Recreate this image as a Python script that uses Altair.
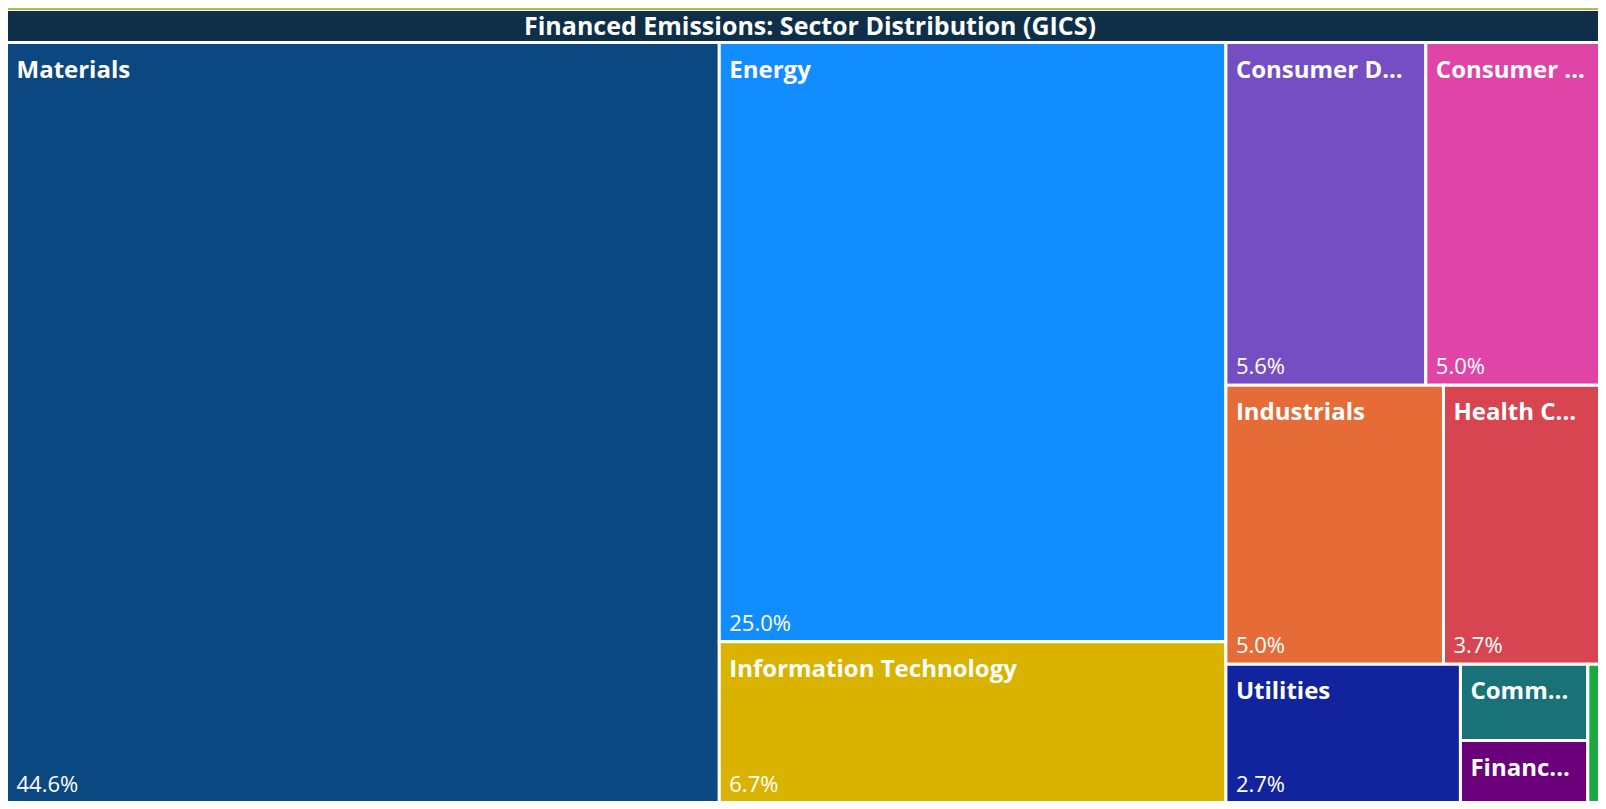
import altair as alt
import pandas as pd

# ---- data -------------------------------------------------------------------
sectors = [
    "Materials", "Energy", "Information Technology", "Consumer Discretionary",
    "Consumer Staples", "Industrials", "Health Care", "Utilities",
    "Communication Services", "Financials", "Real Estate",
]
shares = [44.6, 25.0, 6.7, 5.64, 5.04, 5.0, 3.7, 2.67, 0.80, 0.65, 0.19]
colors = [
    "#0B4881", "#118DFF", "#D9B300", "#744EC2", "#E044A7", "#E66C37",
    "#D64550", "#12239E", "#197278", "#6B007B", "#1AAB40",
]
title_text = "Financed Emissions: Sector Distribution (GICS)"

# ---- squarified treemap layout (area-weighted aspect criterion) ---------------
W, H = 1598.0, 760.0


def squarify(items, x, y, w, h):
    out = []
    total = sum(v for _, v in items)
    k_area = w * h / total
    items = list(items)
    while items:
        vertical = w >= h
        side = h if vertical else w

        def score(row):
            s = sum(v for _, v in row)
            thick = s * k_area / side
            acc = 0.0
            for _, v in row:
                length = v * k_area / thick
                acc += v * max(thick / length, length / thick)
            return acc / s

        n = 1
        best = score(items[:1])
        while n < len(items):
            sc = score(items[: n + 1])
            if sc < best:
                best = sc
                n += 1
            else:
                break
        row, items = items[:n], items[n:]
        s = sum(v for _, v in row)
        thick = s * k_area / side
        off = 0.0
        for i, v in row:
            length = v * k_area / thick
            if vertical:
                out.append((i, x, x + thick, y + off, y + off + length))
            else:
                out.append((i, x + off, x + off + length, y, y + thick))
            off += length
        if vertical:
            x += thick
            w -= thick
        else:
            y += thick
            h -= thick
    return out


recs = []
for i, x0, x1, y0, y1 in squarify(list(enumerate(shares)), 0.0, 0.0, W, H):
    recs.append(dict(sector=sectors[i], share=shares[i], x0=x0, x1=x1,
                     y0=y0, y1=y1, w=x1 - x0, h=y1 - y0))
df = pd.DataFrame(recs)

FONT = "Open Sans"
VW, VH = 1590, 793
xs = alt.Scale(domain=[0, W], range=[-1.5, W - 1.5], nice=False, zero=False)
ys = alt.Scale(domain=[0, H], range=[34.5, 34.5 + H], nice=False, zero=False)
cs = alt.Scale(domain=sectors, range=colors)

base = alt.Chart(df)

tiles = base.mark_rect(stroke="white", strokeWidth=3, clip=True).encode(
    x=alt.X("x0:Q", scale=xs, axis=None),
    x2="x1:Q",
    y=alt.Y("y0:Q", scale=ys, axis=None),
    y2="y1:Q",
    color=alt.Color("sector:N", scale=cs, legend=None),
    tooltip=["sector:N", alt.Tooltip("share:Q", format=".1f")],
)

names = base.transform_filter("datum.w > 40").mark_text(
    align="left", baseline="middle", dx=10, dy=28, font=FONT, fontSize=24,
    fontWeight="bold", color="white", ellipsis="...", clip=True,
    limit=alt.ExprRef(expr="datum.w - 26"),
).encode(
    x=alt.X("x0:Q", scale=xs, axis=None),
    y=alt.Y("y0:Q", scale=ys, axis=None),
    text="sector:N",
)

values = base.transform_filter("datum.w > 40 && datum.h > 100").transform_calculate(
    lbl="format(datum.share, '.1f') + '%'"
).mark_text(
    align="left", baseline="middle", dx=10, dy=-18, font=FONT, fontSize=22,
    color="white", clip=True,
).encode(
    x=alt.X("x0:Q", scale=xs, axis=None),
    y=alt.Y("y1:Q", scale=ys, axis=None),
    text="lbl:N",
)

tdf = pd.DataFrame({"t": [title_text]})
accent = alt.Chart(tdf).mark_rect(color="#9CC83F").encode(
    x=alt.value(-1), x2=alt.value(VW + 5), y=alt.value(0), y2=alt.value(2)
)
bar = alt.Chart(tdf).mark_rect(color="#0E2F47").encode(
    x=alt.value(-1), x2=alt.value(VW + 5), y=alt.value(3), y2=alt.value(33.5)
)
title = alt.Chart(tdf).mark_text(
    font=FONT, fontSize=25, fontWeight="bold", color="white",
    align="center", baseline="middle",
).encode(x=alt.value(802), y=alt.value(18.5), text="t:N")

chart = alt.layer(accent, bar, title, tiles, names, values).properties(
    width=VW, height=VH, padding=0,
    autosize=alt.AutoSizeParams(type="none"),
    background="white",
).configure_view(strokeWidth=0)

chart.save("out.html", embed_options={"renderer": "svg", "actions": False})
